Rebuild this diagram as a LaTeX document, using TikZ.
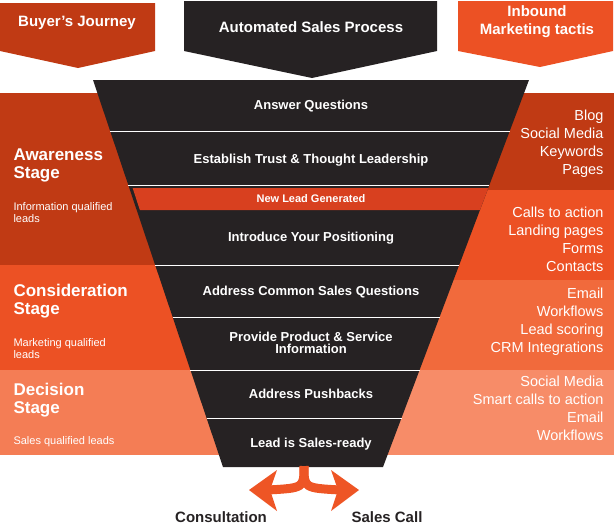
\documentclass[tikz,border=0pt]{standalone}
\usepackage{fontspec}
\setmainfont{Liberation Sans}
\definecolor{dkor}{HTML}{C03A14}
\definecolor{orA}{HTML}{EC5124}
\definecolor{orB}{HTML}{F16A3C}
\definecolor{orC}{HTML}{F47D55}
\definecolor{orD}{HTML}{F78C68}
\definecolor{blk}{HTML}{262223}
\definecolor{arr}{HTML}{EE5525}
\definecolor{band}{HTML}{D8401F}
\begin{document}
\begin{tikzpicture}[x=1pt,y=-1pt,
  ft/.style={font=\bfseries\fontsize{13}{14}\selectfont, text=white, align=center},
  rt/.style={anchor=east, font=\fontsize{14.5}{18}\selectfont, text=white, align=right},
  st/.style={anchor=north west, font=\bfseries\fontsize{17}{18}\selectfont, text=white, align=left},
  sub/.style={anchor=north west, font=\fontsize{11}{12}\selectfont, text=white, align=left},
  hd/.style={font=\bfseries\fontsize{15}{18}\selectfont, text=white, align=center},
  div/.style={white, line width=1pt}]
\useasboundingbox (0,0) rectangle (614,525);
% header arrows
\fill[dkor] (0,3) -- (155,3) -- (155,51) -- (78,68) -- (0,51) -- cycle;
\node[hd] (bj) at (77,23) {Buyer’s Journey};
\fill[blk] (184,1) -- (437,1) -- (437,51) -- (312,78) -- (184,51) -- cycle;
\node[hd] (asp) at (311,27) {Automated Sales Process};
\fill[orA] (458,1) -- (613,1) -- (613,51) -- (540,67) -- (458,51) -- cycle;
\node[hd] (imt) at (537,22) {Inbound\\Marketing tactis};
% left bands
\fill[dkor] (0,93) rectangle (310,265);
\fill[orA] (0,265) rectangle (310,370);
\fill[orC] (0,370) rectangle (310,455);
% right bands
\fill[dkor] (310,93) rectangle (614,190);
\fill[orA] (310,190) rectangle (614,280);
\fill[orB] (310,280) rectangle (614,370);
\fill[orD] (310,370) rectangle (614,455);
% funnel
\fill[blk] (93,80) -- (529,80) -- (383,467) -- (223,467) -- cycle;
\fill[band] (132.6,188) -- (488.3,188) -- (480,210) -- (139.9,210) -- cycle;
\foreach \y in {131,185,265,317,370,418}{
  \draw[div] ({93+0.336*(\y-80)},\y) -- ({529-0.377*(\y-80)},\y);
}
\node[ft] (f1) at (311,106) {Answer Questions};
\node[ft] (f2) at (311,160) {Establish Trust \& Thought Leadership};
\node[ft, font=\bfseries\fontsize{11}{12}\selectfont] (f3) at (311,199) {New Lead Generated};
\node[ft] (f4) at (311,238) {Introduce Your Positioning};
\node[ft] (f5) at (311,292) {Address Common Sales Questions};
\node[ft, font=\bfseries\fontsize{13}{12}\selectfont] (f6) at (311,343) {Provide Product \& Service\\Information};
\node[ft] (f7) at (311,394) {Address Pushbacks};
\node[ft] (f8) at (311,444) {Lead is Sales-ready};
% left texts
\node[st] (aw) at (10,145) {Awareness\\Stage};
\node[sub] (aws) at (10,199) {Information qualified\\leads};
\node[st] (co) at (10,281) {Consideration\\Stage};
\node[sub] (cos) at (10,335) {Marketing qualified\\leads};
\node[st] (de) at (10,380) {Decision\\Stage};
\node[sub] (des) at (10,433) {Sales qualified leads};
% right texts
\node[rt] (r1) at (607,144) {Blog\\Social Media\\Keywords\\Pages};
\node[rt] (r2) at (607,239) {Calls to action\\Landing pages\\Forms\\Contacts};
\node[rt] (r3) at (607,322) {Email\\Workflows\\Lead scoring\\CRM Integrations};
\node[rt] (r4) at (607,408) {Social Media\\Smart calls to action\\Email\\Workflows};
% bottom arrows
\coordinate (stem) at (304,466);
\draw[arr, line width=9pt] (stem) .. controls (304,488) .. (268,490);
\draw[arr, line width=9pt] (stem) .. controls (304,488) .. (340,490);
\fill[arr] (249,490) -- (277,470) -- (270,490) -- (277,511) -- cycle;
\fill[arr] (359,490) -- (331,470) -- (338,490) -- (331,511) -- cycle;
\node[font=\bfseries\fontsize{15}{16}\selectfont, text=blk] (c1) at (221,517) {Consultation};
\node[font=\bfseries\fontsize{15}{16}\selectfont, text=blk] (c2) at (387,517) {Sales Call};
\end{tikzpicture}
\end{document}
